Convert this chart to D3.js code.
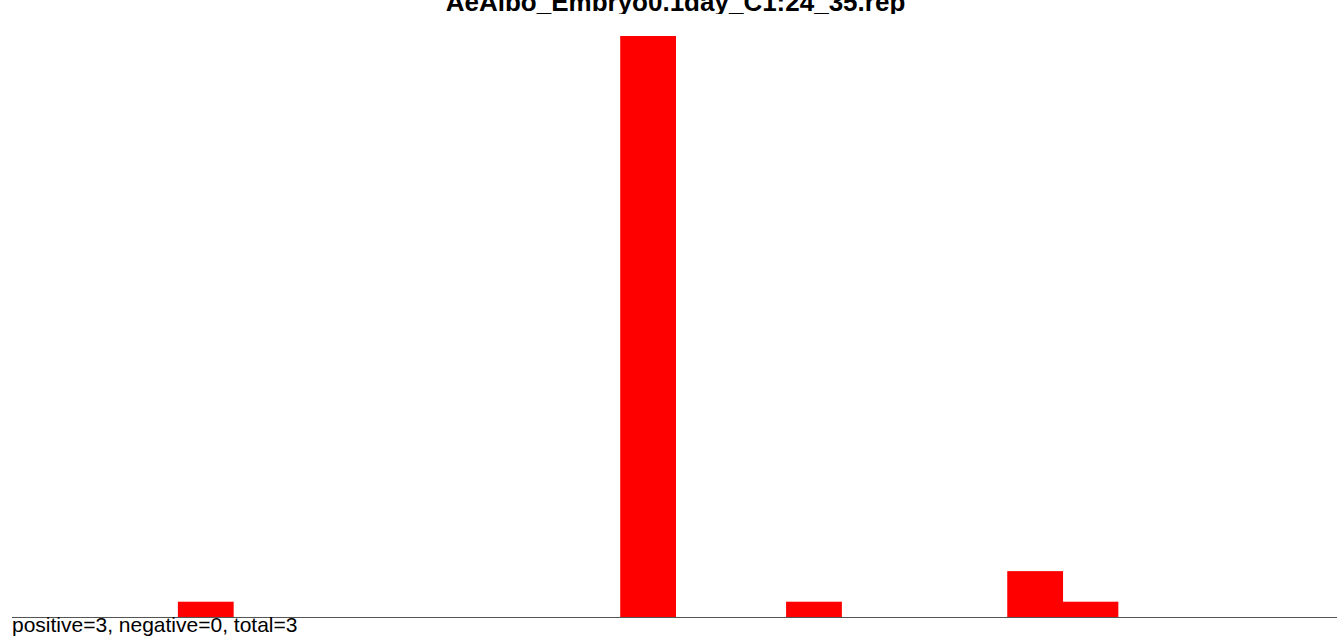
<!DOCTYPE html>
<html><head><meta charset="utf-8">
<script src="https://cdn.jsdelivr.net/npm/d3@7"></script>
<style>html,body{margin:0;padding:0;background:#fff;overflow:hidden}</style>
</head><body>
<script>
const title = "AeAlbo_Embryo0.1day_C1:24_35.rep";
const categories = ["1","2","3","4","5","6","7","8","9","10","11","12","13","14","15","16","17","18","19","20","21","22","23","24"];
const values = [0,0,0,1,0,0,0,0,0,0,0,38,0,0,1,0,0,0,3,1,0,0,0,0];
const footer = "positive=3, negative=0, total=3";

const W = 1337, H = 639;
const svg = d3.select("body").append("svg").attr("width", W).attr("height", H);
const x = d3.scaleBand().domain(categories).range([12, 1339]).padding(0);
const y = d3.scaleLinear().domain([0, 38]).range([617, 36]);

svg.append("defs").append("clipPath").attr("id", "titleClip")
  .append("rect").attr("x", 0).attr("y", 0).attr("width", W).attr("height", 14);

svg.append("g").selectAll("rect").data(values.map((v,i)=>({c:categories[i], v}))).join("rect")
  .attr("x", d => x(d.c)).attr("width", x.bandwidth() + 0.5)
  .attr("y", d => y(d.v)).attr("height", d => y(0) - y(d.v))
  .attr("fill", "#ff0000");

svg.append("line").attr("x1", 12).attr("x2", W).attr("y1", y(0)+0.5).attr("y2", y(0)+0.5)
  .attr("stroke", "#555").attr("stroke-width", 1);

svg.append("text").attr("clip-path", "url(#titleClip)")
  .attr("x", (12+1339)/2).attr("y", 11).attr("text-anchor","middle")
  .attr("font-family","Liberation Sans, Arial, sans-serif").attr("font-weight","bold").attr("font-size", 26)
  .attr("fill","#000").text(title);

svg.append("text").attr("x", 12).attr("y", 632)
  .attr("font-family","Liberation Sans, Arial, sans-serif").attr("font-size", 21)
  .attr("fill","#000").text(footer);
</script>
</body></html>
